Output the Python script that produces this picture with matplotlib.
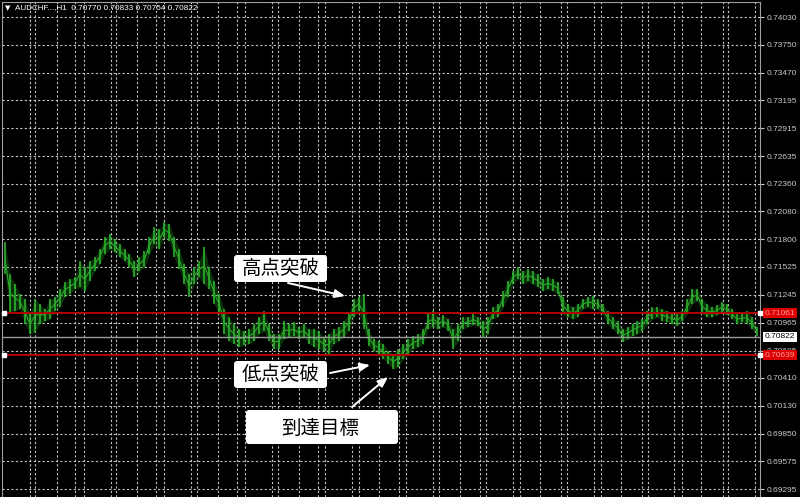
import numpy as np
import matplotlib
matplotlib.use("Agg")
import matplotlib.pyplot as plt
from matplotlib.ticker import FixedLocator, NullFormatter
from matplotlib.patches import FancyBboxPatch

# AUDCHF H1 bars (high / low) left to right
highs = [.7177, .7145, .7135, .7125, .7120, .7105, .7120, .7115, .7110, .7120,
         .7122, .7130, .7137, .7140, .7142, .7158, .7152, .7158, .7162, .7170,
         .7182, .7185, .7180, .7175, .7170, .7165, .7158, .7162, .7168, .7182,
         .7192, .7190, .7197, .7195, .7182, .7170, .7155, .7145, .7152, .7158,
         .7172, .7152, .7138, .7125, .7110, .7102, .7095, .7090, .7088, .7090,
         .7095, .7102, .7108, .7095, .7085, .7085, .7098, .7095, .7097, .7092,
         .7095, .7090, .7090, .7088, .7082, .7085, .7090, .7092, .7098, .7105,
         .7120, .7122, .7125, .7090, .7080, .7078, .7075, .7068, .7065, .7070,
         .7075, .7080, .7083, .7085, .7090, .7105, .7108, .7102, .7104, .7100,
         .7090, .7095, .7102, .7102, .7105, .7102, .7098, .7102, .7112, .7115,
         .7128, .7138, .7148, .7152, .7148, .7150, .7148, .7145, .7140, .7142,
         .7140, .7137, .7122, .7115, .7112, .7115, .7120, .7122, .7123, .7120,
         .7115, .7108, .7102, .7098, .7090, .7092, .7095, .7098, .7100, .7108,
         .7112, .7112, .7110, .7108, .7105, .7105, .7108, .7120, .7130, .7130,
         .7120, .7115, .7112, .7114, .7117, .7115, .7110, .7105, .7105, .7108,
         .7102, .7092]
lows = [.7145, .7107, .7108, .7110, .7095, .7085, .7087, .7095, .7098, .7100,
        .7108, .7112, .7122, .7125, .7130, .7132, .7128, .7138, .7148, .7155,
        .7165, .7170, .7167, .7162, .7158, .7152, .7142, .7148, .7152, .7165,
        .7175, .7170, .7182, .7178, .7162, .7150, .7135, .7122, .7135, .7142,
        .7135, .7130, .7115, .7105, .7085, .7078, .7075, .7072, .7074, .7075,
        .7078, .7085, .7088, .7078, .7070, .7070, .7080, .7082, .7083, .7080,
        .7082, .7075, .7072, .7070, .7068, .7063, .7075, .7078, .7082, .7088,
        .7102, .7108, .7090, .7073, .7068, .7065, .7060, .7055, .7050, .7052,
        .7060, .7065, .7070, .7072, .7075, .7090, .7092, .7090, .7092, .7088,
        .7070, .7078, .7090, .7092, .7094, .7093, .7082, .7085, .7100, .7102,
        .7112, .7122, .7135, .7140, .7135, .7138, .7135, .7132, .7128, .7130,
        .7128, .7125, .7105, .7102, .7100, .7102, .7110, .7112, .7110, .7110,
        .7105, .7095, .7090, .7085, .7077, .7080, .7083, .7085, .7088, .7095,
        .7100, .7102, .7098, .7097, .7095, .7093, .7098, .7105, .7115, .7118,
        .7105, .7102, .7102, .7104, .7107, .7104, .7100, .7095, .7097, .7095,
        .7090, .7083]

tick_prices = [0.74030, 0.73750, 0.73470, 0.73195, 0.72915, 0.72635, 0.72360,
               0.72080, 0.71800, 0.71525, 0.71245, 0.70965, 0.70685, 0.70410,
               0.70130, 0.69850, 0.69575, 0.69295]
red_levels = [0.71061, 0.70639]
last_price = 0.70822
header = "AUDCHF...,H1  0.70770 0.70833 0.70754 0.70822"

n = min(len(highs), len(lows))
x = np.arange(n)
hi = np.array(highs[:n])
lo = np.array(lows[:n])

W, H = 800, 497
fig = plt.figure(figsize=(W / 100, H / 100), dpi=100, facecolor="black")
ax = fig.add_axes([2 / W, 0, 758 / W, 495 / H])
ax.set_facecolor("black")

xmin, xmax = -0.6, n - 0.4
ax.set_xlim(xmin, xmax)
ax.set_ylim(0.69216, 0.74181)


def px_to_x(px):
    return xmin + (px - 2) / 758 * (xmax - xmin)


# MT4 style grid: two interleaved sets of vertical separators
grid_a = [px_to_x(p) for p in np.arange(35, 760, 40.45)]
grid_b = [px_to_x(p) for p in np.arange(30, 760, 26.85)]
ax.xaxis.set_major_locator(FixedLocator(grid_a))
ax.xaxis.set_minor_locator(FixedLocator(grid_b))
ax.xaxis.set_major_formatter(NullFormatter())
ax.tick_params(axis="x", which="both", length=0)
gkw = dict(color="#c4c4c4", linestyle=(0, (2, 2)), linewidth=0.8)
ax.grid(True, which="major", axis="both", **gkw)
ax.grid(True, which="minor", axis="x", **gkw)
ax.set_axisbelow(True)

ax.yaxis.tick_right()
ax.set_yticks(tick_prices)
ax.set_yticklabels([f"{p:.5f}" for p in tick_prices])
ax.tick_params(axis="y", colors="#c8c8c8", labelsize=6, length=3, pad=2)
for lab in ax.get_yticklabels():
    lab.set_family("Liberation Sans")

for s in ax.spines.values():
    s.set_color("#a0a0a0")
    s.set_linewidth(0.8)
ax.spines["bottom"].set_visible(False)

# price bars
ax.fill_between(x, lo, hi, color="#1e8a1e", alpha=0.35, linewidth=0, zorder=3)
ax.vlines(x, lo, hi, color="#2fbd2f", linewidth=1.1, zorder=4)
ax.plot(x, (hi + lo) / 2, color="#2aa82a", linewidth=0.8, zorder=4)

# horizontal levels
ytrans = ax.get_yaxis_transform()
for lv in red_levels:
    ax.axhline(lv, color="#b30000", linewidth=1.4, zorder=5)
    ax.text(1.006, lv, f"{lv:.5f}", transform=ytrans, ha="left", va="center",
            fontsize=6, family="Liberation Sans", color="#ff9a9a", zorder=10,
            bbox=dict(facecolor="#dd0000", edgecolor="none", pad=1.2))
    ax.plot([0.003, 1.0], [lv, lv], transform=ytrans, linestyle="none",
            marker="s", markersize=3, color="white", clip_on=False, zorder=11)
ax.axhline(last_price, color="#9a9a9a", linewidth=1.0, zorder=5)
ax.text(1.006, last_price, f"{last_price:.5f}", transform=ytrans, ha="left",
        va="center", fontsize=6, family="Liberation Sans", color="black",
        zorder=10, bbox=dict(facecolor="white", edgecolor="none", pad=1.2))

# overlay in pixel coordinates for header and callouts
ov = fig.add_axes([0, 0, 1, 1])
ov.set_xlim(0, W)
ov.set_ylim(H, 0)
ov.axis("off")
ov.patch.set_alpha(0)

ov.text(5, 8, "\u25bc", fontsize=5, color="white", va="center", family="DejaVu Sans")
ov.text(15, 8, header, fontsize=5.9, color="white", va="center", family="Liberation Sans")

cjk = ["Noto Sans CJK JP", "DejaVu Sans"]
boxes = [
    ("高点突破", (234, 255, 93, 27), (281, 268)),
    ("低点突破", (234, 361, 93, 27), (281, 374)),
    ("到達目標", (246, 410, 152, 34), (320, 428)),
]
for txt, (bx, by, bw, bh), (tx, ty) in boxes:
    ov.add_patch(FancyBboxPatch((bx, by), bw, bh,
                                boxstyle="round,pad=0,rounding_size=3",
                                facecolor="white", edgecolor="none"))
    ov.text(tx, ty, txt, fontsize=14, color="black", ha="center", va="center",
            family=cjk)

arrows = [((288, 283), (345, 296)),
          ((330, 373), (370, 365)),
          ((352, 407), (388, 377))]
for (x0, y0), (x1, y1) in arrows:
    ov.annotate("", xy=(x1, y1), xytext=(x0, y0),
                arrowprops=dict(arrowstyle="-|>,head_length=0.6,head_width=0.25",
                                color="white", lw=1.4, shrinkA=0, shrinkB=0))

fig.savefig("out.png", dpi=100, facecolor="black")
